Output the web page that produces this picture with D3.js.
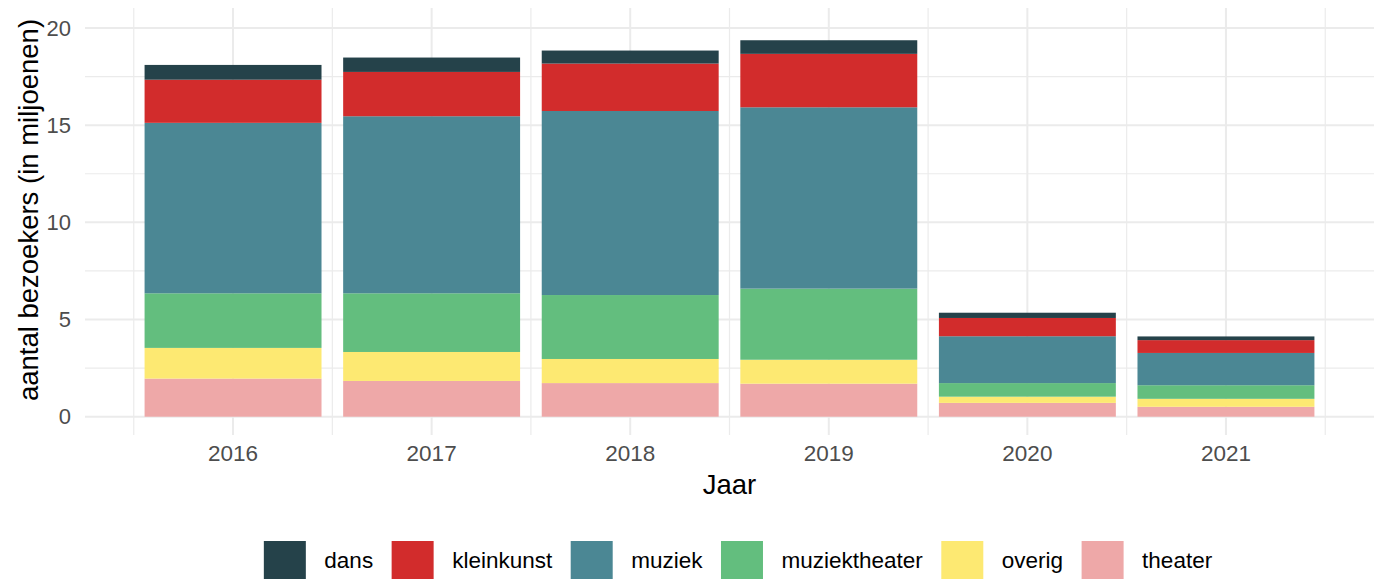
<!DOCTYPE html>
<html>
<head>
<meta charset="utf-8">
<script src="https://cdn.jsdelivr.net/npm/d3@7/dist/d3.min.js"></script>
<style>
  html, body { margin: 0; padding: 0; background: #fff; }
  svg { display: block; font-family: "Liberation Sans", Arial, sans-serif; }
</style>
</head>
<body>
<svg id="chart" width="1386" height="579"></svg>
<script>
// ---- data (millions of visitors) ----
const years = ["2016", "2017", "2018", "2019", "2020", "2021"];
const categories = ["dans", "kleinkunst", "muziek", "muziektheater", "overig", "theater"];
const dans          = [0.76, 0.74, 0.67, 0.70, 0.27, 0.19];
const kleinkunst    = [2.22, 2.28, 2.44, 2.75, 0.94, 0.66];
const muziek        = [8.77, 9.11, 9.47, 9.33, 2.41, 1.66];
const muziektheater = [2.81, 3.02, 3.29, 3.66, 0.70, 0.70];
const overig        = [1.58, 1.49, 1.24, 1.23, 0.32, 0.41];
const theater       = [1.96, 1.84, 1.73, 1.70, 0.71, 0.51];
const yTicks = [0, 5, 10, 15, 20];
const yMinor = [2.5, 7.5, 12.5, 17.5];
const colors = ["#25424A", "#D22C2C", "#4B8794", "#63BE7E", "#FDE972", "#EEA8A8"];

const series = { dans, kleinkunst, muziek, muziektheater, overig, theater };
const table = years.map((y, i) => {
  const row = { year: y };
  categories.forEach(c => row[c] = series[c][i]);
  return row;
});

const svg = d3.select("#chart");
const panel = { left: 85, right: 1374, top: 8, bottom: 435 };

const x = d3.scaleBand().domain(years).range([panel.left, panel.right])
  .paddingInner(0.109).paddingOuter(0.30);
const y = d3.scaleLinear().domain([0, 20]).range([416.7, 28]);
const color = d3.scaleOrdinal().domain(categories).range(colors);

const grid = "#EBEBEB";
const g = svg.append("g");

// minor horizontal
g.selectAll(".hmin").data(yMinor).join("line")
  .attr("x1", panel.left).attr("x2", panel.right)
  .attr("y1", d => y(d)).attr("y2", d => y(d))
  .attr("stroke", grid).attr("stroke-width", 1.2);
// minor vertical (band boundaries)
const step = x.step();
const vMinor = [...years.map(yr => x(yr) + x.bandwidth() / 2 - step / 2),
                x(years[years.length - 1]) + x.bandwidth() / 2 + step / 2];
g.selectAll(".vmin").data(vMinor).join("line")
  .attr("x1", d => d).attr("x2", d => d)
  .attr("y1", panel.top).attr("y2", panel.bottom)
  .attr("stroke", grid).attr("stroke-width", 1.2);
// major horizontal
g.selectAll(".hmaj").data(yTicks).join("line")
  .attr("x1", panel.left).attr("x2", panel.right)
  .attr("y1", d => y(d)).attr("y2", d => y(d))
  .attr("stroke", grid).attr("stroke-width", 2);
// major vertical
g.selectAll(".vmaj").data(years).join("line")
  .attr("x1", d => x(d) + x.bandwidth() / 2).attr("x2", d => x(d) + x.bandwidth() / 2)
  .attr("y1", panel.top).attr("y2", panel.bottom)
  .attr("stroke", grid).attr("stroke-width", 2);

// stacked bars: theater at bottom
const stackKeys = categories.slice().reverse();
const stacked = d3.stack().keys(stackKeys)(table);
svg.append("g").selectAll("g").data(stacked).join("g")
  .attr("fill", d => color(d.key))
  .selectAll("rect").data(d => d).join("rect")
  .attr("x", d => x(d.data.year))
  .attr("width", x.bandwidth())
  .attr("y", d => y(d[1]))
  .attr("height", d => y(d[0]) - y(d[1]));

// y axis labels
const yAxis = d3.axisLeft(y).tickValues(yTicks).tickSize(0).tickPadding(0);
const ya = svg.append("g").attr("transform", "translate(71,0)").call(yAxis);
ya.select(".domain").remove();
ya.selectAll("text").attr("fill", "#4D4D4D").style("font-size", "22px")
  .style("font-family", "'Liberation Sans', Arial, sans-serif");

// x axis labels
const xAxis = d3.axisBottom(x).tickSize(0).tickPadding(0);
const xa = svg.append("g").attr("transform", "translate(0,445)").call(xAxis);
xa.select(".domain").remove();
xa.selectAll("text").attr("fill", "#4D4D4D").style("font-size", "22.5px")
  .style("font-family", "'Liberation Sans', Arial, sans-serif").attr("dy", "0.71em");

// axis titles
svg.append("text").attr("x", (panel.left + panel.right) / 2).attr("y", 494)
  .attr("text-anchor", "middle").attr("fill", "#000").style("font-size", "27.5px").text("Jaar");
svg.append("text").attr("transform", "translate(38,210) rotate(-90)")
  .attr("text-anchor", "middle").attr("fill", "#000").style("font-size", "27.5px")
  .text("aantal bezoekers (in miljoenen)");

// legend
const leg = svg.append("g");
const keyW = 42, keyH = 38, gap = 18.5, keyTop = 541;
const items = leg.selectAll("g").data(categories).join("g");
items.append("rect").attr("width", keyW).attr("height", keyH).attr("y", keyTop)
  .attr("fill", d => color(d));
items.append("text").attr("x", keyW + gap).attr("y", 568)
  .attr("fill", "#000").style("font-size", "22.5px").text(d => d);
let widths = [];
items.each(function () { widths.push(this.querySelector("text").getComputedTextLength()); });
const total = widths.reduce((a, w) => a + keyW + gap + w, 0) + gap * (categories.length - 1);
let cx = 738 - total / 2;
items.each(function (d, i) {
  d3.select(this).attr("transform", `translate(${cx},0)`);
  cx += keyW + gap + widths[i] + gap;
});
</script>
</body>
</html>
